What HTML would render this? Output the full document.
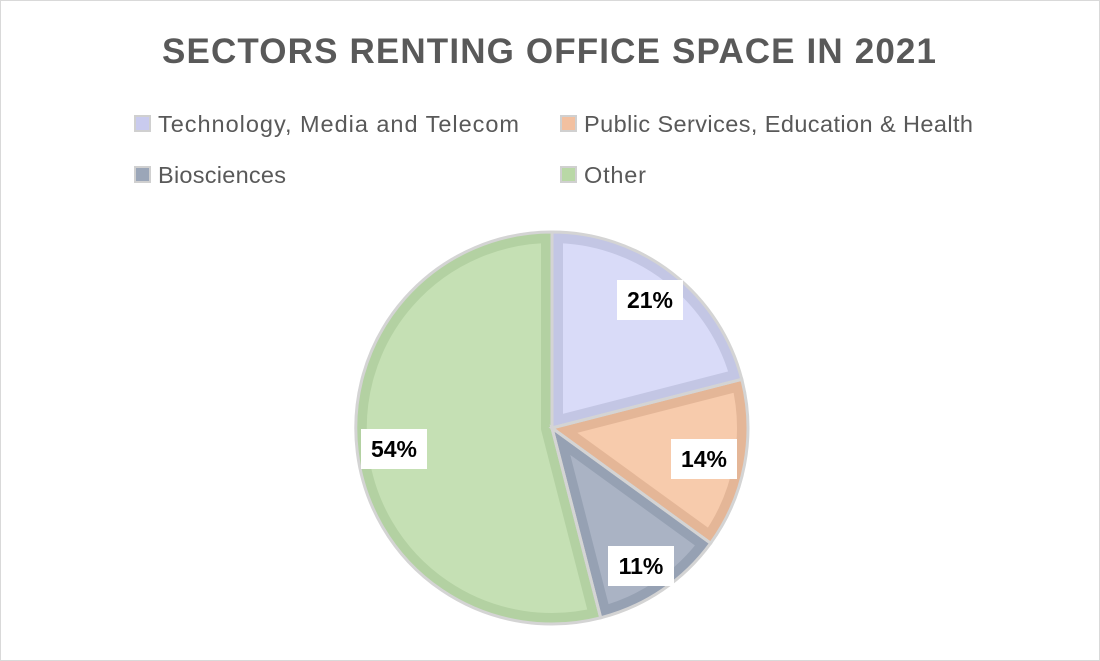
<!DOCTYPE html>
<html><head><style>
body{margin:0;background:#fff;}
svg{display:block;}
</style></head><body>
<svg width="1100" height="661" viewBox="0 0 1100 661" xmlns="http://www.w3.org/2000/svg" font-family="Liberation Sans, sans-serif">
<rect x="0.5" y="0.5" width="1099" height="660" fill="#fff" stroke="#d9d9d9"/>
<text x="162" y="63" font-size="35" font-weight="bold" fill="#595959" textLength="774" lengthAdjust="spacing">SECTORS RENTING OFFICE SPACE IN 2021</text>
<g font-size="23.5" fill="#595959">
<rect x="135" y="116" width="15" height="15" fill="#c9cbee" stroke="#d0d0d0" stroke-width="2"/>
<text x="158" y="132" textLength="361" lengthAdjust="spacing">Technology, Media and Telecom</text>
<rect x="561" y="116" width="15" height="15" fill="#f2c0a0" stroke="#d0d0d0" stroke-width="2"/>
<text x="584" y="132" textLength="389" lengthAdjust="spacing">Public Services, Education &amp; Health</text>
<rect x="135" y="167" width="15" height="15" fill="#9ba6b8" stroke="#d0d0d0" stroke-width="2"/>
<text x="158" y="183" textLength="128" lengthAdjust="spacing">Biosciences</text>
<rect x="561" y="167" width="15" height="15" fill="#b9d8a6" stroke="#d0d0d0" stroke-width="2"/>
<text x="584" y="183" textLength="62" lengthAdjust="spacing">Other</text>
</g>
<defs>
<clipPath id="c1"><path id="p1" d="M552,428 L552,232 A196,196 0 0 1 741.8,379.3 Z"/></clipPath>
<clipPath id="c2"><path id="p2" d="M552,428 L741.8,379.3 A196,196 0 0 1 710.6,543.2 Z"/></clipPath>
<clipPath id="c3"><path id="p3" d="M552,428 L710.6,543.2 A196,196 0 0 1 600.7,617.8 Z"/></clipPath>
<clipPath id="c4"><path id="p4" d="M552,428 L600.7,617.8 A196,196 0 1 1 552,232 Z"/></clipPath>
</defs>
<use href="#p1" fill="#d9dbf8" stroke="#c3c6e4" stroke-width="22" clip-path="url(#c1)"/>
<use href="#p2" fill="#f7cbac" stroke="#e4b697" stroke-width="22" clip-path="url(#c2)"/>
<use href="#p3" fill="#aab3c4" stroke="#96a1b3" stroke-width="22" clip-path="url(#c3)"/>
<use href="#p4" fill="#c5e0b4" stroke="#b3d1a2" stroke-width="22" clip-path="url(#c4)"/>
<g fill="none" stroke="#d4d4d4" stroke-width="3">
<use href="#p1"/><use href="#p2"/><use href="#p3"/><use href="#p4"/>
</g>
<g font-size="23" font-weight="bold" fill="#000" text-anchor="middle">
<rect x="617" y="280" width="66" height="40" fill="#fff"/><text x="650" y="308">21%</text>
<rect x="671" y="439" width="66" height="40" fill="#fff"/><text x="704" y="467">14%</text>
<rect x="608" y="546" width="66" height="40" fill="#fff"/><text x="641" y="574">11%</text>
<rect x="361" y="429" width="66" height="40" fill="#fff"/><text x="394" y="457">54%</text>
</g>
</svg>
</body></html>
